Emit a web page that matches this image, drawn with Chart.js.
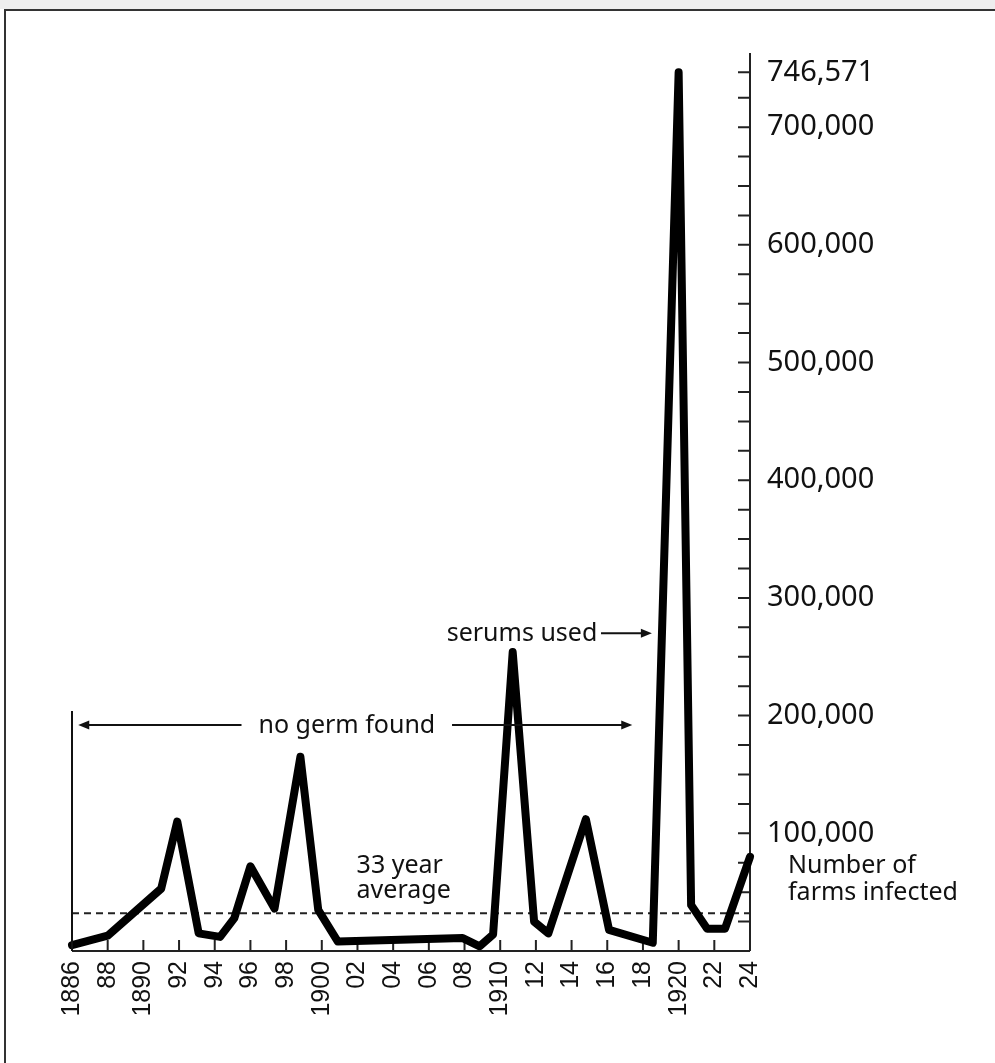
<!DOCTYPE html>
<html>
<head>
<meta charset="utf-8">
<script src="https://cdn.jsdelivr.net/npm/chart.js@4"></script>
<style>
    html, body { margin: 0; padding: 0; background: #fff; }
    canvas { display: block; }
</style>
</head>
<body>
<canvas id="farmsChart" width="995" height="1063"></canvas>
<script>
// years as drawn on the original (points are not exactly on the year ticks)
const years = [1886, 1888, 1891, 1891.9, 1893.1, 1894.3, 1895.1, 1896, 1897.35, 1898.8,
    1899.8, 1900.9, 1907.9, 1908.85, 1909.6, 1910.7, 1911.9, 1912.7, 1914.8, 1916.1,
    1918.55, 1920, 1920.7, 1921.6, 1922.6, 1924];
const farms = [5000, 13000, 53000, 110000, 15000, 12000, 28000, 72000, 36000, 165000,
    35000, 8000, 11000, 4000, 14000, 254000, 25000, 15000, 112000, 18000,
    7000, 746571, 39000, 19000, 19000, 80000];
const averageFarms = 32000;

const tickYears = [1886, 1888, 1890, 1892, 1894, 1896, 1898, 1900, 1902, 1904, 1906, 1908,
    1910, 1912, 1914, 1916, 1918, 1920, 1922, 1924];
const tickLabels = ['1886', '88', '1890', '92', '94', '96', '98', '1900', '02', '04', '06', '08',
    '1910', '12', '14', '16', '18', '1920', '22', '24'];
const labelledValues = [100000, 200000, 300000, 400000, 500000, 600000, 700000, 746571];
const MINOR_STEP = 25000;
const Y_MAX = 763000;

const INK = '#111';
const TEXT_FONT = '"Noto Sans", sans-serif';

document.addEventListener('DOMContentLoaded', function () {
    const ctx = document.getElementById('farmsChart').getContext('2d');

    function drawArrow(c, x1, y, x2) {
        const dir = x2 > x1 ? 1 : -1;
        c.beginPath();
        c.moveTo(x1, y);
        c.lineTo(x2 - dir * 8, y);
        c.stroke();
        c.beginPath();
        c.moveTo(x2, y);
        c.lineTo(x2 - dir * 11, y - 4.5);
        c.lineTo(x2 - dir * 11, y + 4.5);
        c.closePath();
        c.fill();
    }

    const framePlugin = {
        id: 'frame',
        beforeDraw(chart) {
            const c = chart.ctx;
            c.save();
            c.fillStyle = '#fff';
            c.fillRect(0, 0, chart.width, chart.height);
            c.fillStyle = '#eeeeee';
            c.fillRect(0, 0, chart.width, 9);
            c.strokeStyle = '#333';
            c.lineWidth = 2;
            c.beginPath();
            c.moveTo(5, chart.height);
            c.lineTo(5, 10);
            c.lineTo(chart.width, 10);
            c.stroke();
            c.restore();
        }
    };

    const axisPlugin = {
        id: 'axisMarks',
        beforeDatasetsDraw(chart) {
            const c = chart.ctx;
            const area = chart.chartArea;
            const xs = chart.scales.x;
            const ys = chart.scales.y;
            c.save();
            c.strokeStyle = '#222';
            c.lineWidth = 2;
            c.beginPath();
            c.moveTo(area.left, area.bottom);
            c.lineTo(area.right, area.bottom);
            c.moveTo(area.right, area.bottom);
            c.lineTo(area.right, area.top);
            c.stroke();

            // inward ticks on both axes
            c.beginPath();
            tickYears.forEach(yr => {
                if (yr === 1886 || yr === 1924) return;
                const px = xs.getPixelForValue(yr);
                c.moveTo(px, area.bottom);
                c.lineTo(px, area.bottom - 11);
            });
            ys.ticks.forEach(t => {
                if (t.value === 0) return;
                const py = ys.getPixelForValue(t.value);
                c.moveTo(area.right - 12, py);
                c.lineTo(area.right, py);
            });
            c.stroke();
            c.restore();
        },
        afterDraw(chart) {
            const c = chart.ctx;
            const area = chart.chartArea;
            const X = v => chart.scales.x.getPixelForValue(v);
            const Y = v => chart.scales.y.getPixelForValue(v);
            c.save();
            c.strokeStyle = INK;
            c.fillStyle = INK;
            c.lineWidth = 2;

            // bracket line marking the start of the "no germ found" period
            c.beginPath();
            c.moveTo(X(1886), area.bottom);
            c.lineTo(X(1886), Y(204000));
            c.stroke();

            const germY = Y(192000);
            drawArrow(c, X(1895.5), germY, X(1886.35));
            drawArrow(c, X(1907.3), germY, X(1917.4));
            const serumY = Y(270000);
            drawArrow(c, X(1915.65), serumY, X(1918.5));

            c.font = '25px ' + TEXT_FONT;
            c.textBaseline = 'alphabetic';
            c.textAlign = 'left';
            c.fillText('no germ found', X(1896.45), germY + 8);
            c.fillText('serums used', X(1907.0), serumY + 8);
            c.fillText('33 year', X(1901.95), Y(averageFarms) - 40);
            c.fillText('average', X(1901.95), Y(averageFarms) - 15);
            c.fillText('Number of', area.right + 38, Y(averageFarms) - 40);
            c.fillText('farms infected', area.right + 38, Y(averageFarms) - 13);
            c.restore();
        }
    };

    const farmsChart = new Chart(ctx, {
        type: 'line',
        data: {
            datasets: [{
                label: 'Number of farms infected',
                data: years.map((yr, i) => ({ x: yr, y: farms[i] })),
                borderColor: '#000',
                borderWidth: 8,
                borderJoinStyle: 'round',
                borderCapStyle: 'round',
                pointRadius: 0,
                tension: 0,
                clip: false,
            }, {
                label: '33 year average',
                data: [{ x: 1886, y: averageFarms }, { x: 1924, y: averageFarms }],
                borderColor: '#222',
                borderWidth: 2,
                borderDash: [7, 5],
                pointRadius: 0,
            }],
        },
        options: {
            responsive: false,
            animation: false,
            layout: { padding: { left: 72, top: 53, right: 0, bottom: 0 } },
            plugins: {
                legend: { display: false },
                tooltip: { enabled: false },
            },
            scales: {
                x: {
                    type: 'linear',
                    min: 1886,
                    max: 1924,
                    afterBuildTicks: scale => {
                        scale.ticks = tickYears.map(v => ({ value: v }));
                    },
                    afterFit: scale => { scale.height = 112; },
                    grid: { display: false, drawTicks: false },
                    border: { display: false },
                    ticks: {
                        autoSkip: false,
                        minRotation: 90,
                        maxRotation: 90,
                        padding: 10,
                        color: INK,
                        font: { family: '"Liberation Sans", Arial, sans-serif', size: 25 },
                        callback: value => tickLabels[tickYears.indexOf(value)],
                    },
                },
                y: {
                    position: 'right',
                    min: 0,
                    max: Y_MAX,
                    afterBuildTicks: scale => {
                        const ticks = [];
                        for (let v = 0; v < 746571; v += MINOR_STEP) ticks.push({ value: v });
                        ticks.push({ value: 746571 });
                        scale.ticks = ticks;
                    },
                    afterFit: scale => { scale.width = 245; },
                    grid: { display: false, drawTicks: false },
                    border: { display: false },
                    ticks: {
                        autoSkip: false,
                        padding: 17,
                        color: INK,
                        font: { family: TEXT_FONT, size: 29 },
                        callback: value => labelledValues.includes(value) ? value.toLocaleString('en-US') : '',
                    },
                },
            },
        },
        plugins: [framePlugin, axisPlugin],
    });
});
</script>
</body>
</html>
